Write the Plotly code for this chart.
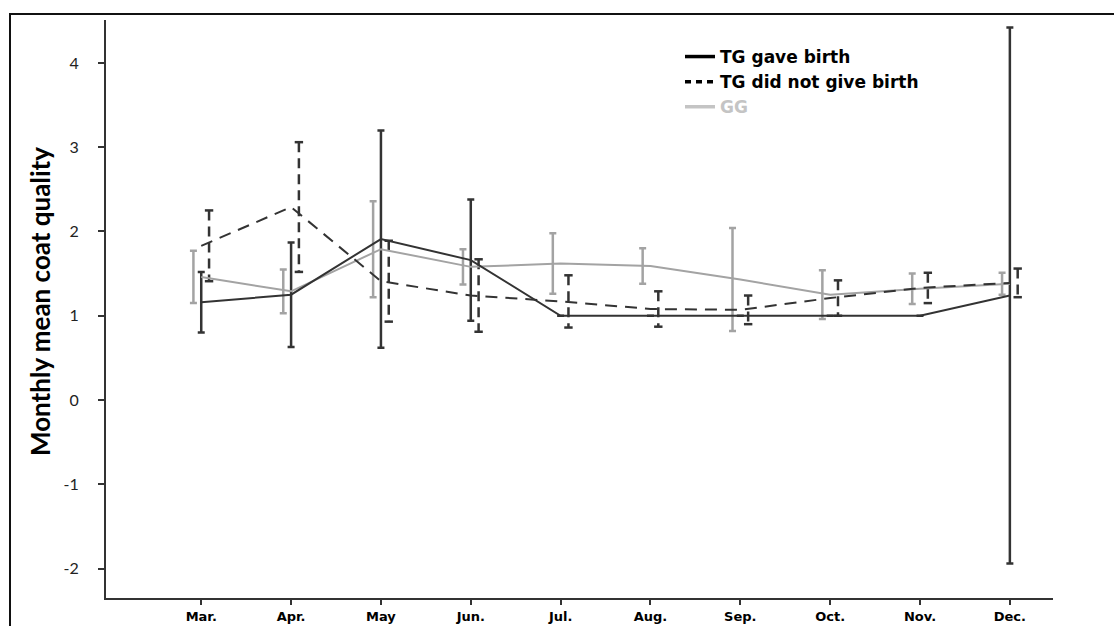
import plotly.graph_objects as go

months = ["Mar.", "Apr.", "May", "Jun.", "Jul.", "Aug.", "Sep.", "Oct.", "Nov.", "Dec."]

tg_birth_mean = [1.16, 1.25, 1.91, 1.66, 1.00, 1.00, 1.00, 1.00, 1.00, 1.24]
tg_birth_err = [0.36, 0.62, 1.29, 0.72, 0.0, 0.0, 0.0, 0.0, 0.0, 3.18]

tg_nobirth_mean = [1.83, 2.29, 1.41, 1.24, 1.17, 1.08, 1.07, 1.21, 1.33, 1.39]
tg_nobirth_err = [0.42, 0.77, 0.48, 0.43, 0.31, 0.21, 0.17, 0.21, 0.18, 0.17]

gg_mean = [1.46, 1.29, 1.79, 1.58, 1.62, 1.59, 1.43, 1.25, 1.32, 1.38]
gg_err = [0.31, 0.26, 0.57, 0.21, 0.36, 0.21, 0.61, 0.29, 0.18, 0.13]

y_tickvals = [-2, -1, 0, 1, 2, 3, 4]
y_ticktext = ["-2", "-1", "0", "1", "2", "3", "4"]

legend_names = ["TG gave birth", "TG did not give birth", "GG"]

DARK = "#333333"
GRAY = "#a3a3a3"
OFF = 0.087

xi = list(range(len(months)))

fig = go.Figure()

# GG error bars (offset left)
fig.add_trace(go.Scatter(
    x=[i - OFF for i in xi], y=gg_mean, mode="markers",
    marker=dict(size=1, color="rgba(0,0,0,0)"),
    error_y=dict(type="data", array=gg_err, color=GRAY, thickness=2.5, width=3.5),
    showlegend=False, hoverinfo="skip"))

# TG did not give birth error bars (offset right, dashed)
ex, ey = [], []
for i, m, e in zip(xi, tg_nobirth_mean, tg_nobirth_err):
    ex += [i + OFF, i + OFF, None]
    ey += [m + e, m - e, None]
fig.add_trace(go.Scatter(
    x=ex, y=ey, mode="lines+markers",
    line=dict(color=DARK, width=2.5, dash="10px,6px"),
    marker=dict(symbol="line-ew", size=6, line=dict(color=DARK, width=2.5)),
    showlegend=False, hoverinfo="skip"))

# TG gave birth error bars (center)
fig.add_trace(go.Scatter(
    x=xi, y=tg_birth_mean, mode="markers",
    marker=dict(size=1, color="rgba(0,0,0,0)"),
    error_y=dict(type="data", array=tg_birth_err, color=DARK, thickness=2.5, width=3.5),
    showlegend=False, hoverinfo="skip"))

# Mean lines
fig.add_trace(go.Scatter(x=xi, y=gg_mean, mode="lines",
                         line=dict(color=GRAY, width=2), showlegend=False))
fig.add_trace(go.Scatter(x=xi, y=tg_nobirth_mean, mode="lines",
                         line=dict(color=DARK, width=2, dash="12px,8px"), showlegend=False))
fig.add_trace(go.Scatter(x=xi, y=tg_birth_mean, mode="lines",
                         line=dict(color=DARK, width=2), showlegend=False))

# Legend-only entries
fig.add_trace(go.Scatter(x=[None], y=[None], mode="lines", name=legend_names[0],
                         line=dict(color="#000000", width=3.5), legendgroup="a"))
fig.add_trace(go.Scatter(x=[None], y=[None], mode="lines", name=legend_names[1],
                         line=dict(color="#000000", width=3.5, dash="6px,5px"), legendgroup="b"))
fig.add_trace(go.Scatter(x=[None], y=[None], mode="lines",
                         name="<span style='color:#c4c4c4'>" + legend_names[2] + "</span>",
                         line=dict(color="#c4c4c4", width=3.5), legendgroup="c"))

W, H = 1114, 626
L, R, T, B = 106, 61, 20, 28
pw, ph = W - L - R, H - T - B

fig.update_layout(
    width=W, height=H,
    margin=dict(l=L, r=R, t=T, b=B, autoexpand=False),
    paper_bgcolor="white", plot_bgcolor="white",
    showlegend=True,
    legend=dict(x=(680 - L) / pw, y=1 - (39 - T) / ph, xanchor="left", yanchor="top",
                font=dict(family="DejaVu Sans", size=17, color="#000000", weight="bold"),
                bgcolor="rgba(0,0,0,0)", tracegroupgap=1, traceorder="normal"),
    xaxis=dict(range=[-1.06, 9.48], tickmode="array", tickvals=xi, ticktext=months,
               automargin=False,
               showgrid=False, zeroline=False, showline=True, linecolor=DARK, linewidth=2,
               ticks="outside", ticklen=5, tickwidth=2, tickcolor=DARK,
               ticklabelstandoff=0,
               tickfont=dict(family="DejaVu Sans", size=13, color="#000000", weight="bold")),
    yaxis=dict(range=[-2.35, 4.51], tickmode="array", tickvals=y_tickvals, ticktext=y_ticktext,
               automargin=False,
               showgrid=False, zeroline=False, showline=True, linecolor=DARK, linewidth=2,
               ticks="outside", ticklen=6, tickwidth=1.5, tickcolor=DARK,
               ticklabelstandoff=16,
               tickfont=dict(family="Lato", size=16, color="#222222")),
    shapes=[dict(type="rect", xref="paper", yref="paper",
                 x0=(10 - L) / pw, x1=(W + 20 - L) / pw,
                 y0=-(B + 20) / ph, y1=1 + (T - 14) / ph,
                 line=dict(color="#111111", width=2), fillcolor="rgba(0,0,0,0)", layer="below")],
    annotations=[dict(text="Monthly mean coat quality", xref="paper", yref="paper",
                      x=(40 - L) / pw, y=(598 - 302) / ph, textangle=-90, showarrow=False,
                      xanchor="center", yanchor="middle",
                      font=dict(family="Lato", size=26, color="#000000", weight="bold"))],
)

fig.write_html("out.html")
